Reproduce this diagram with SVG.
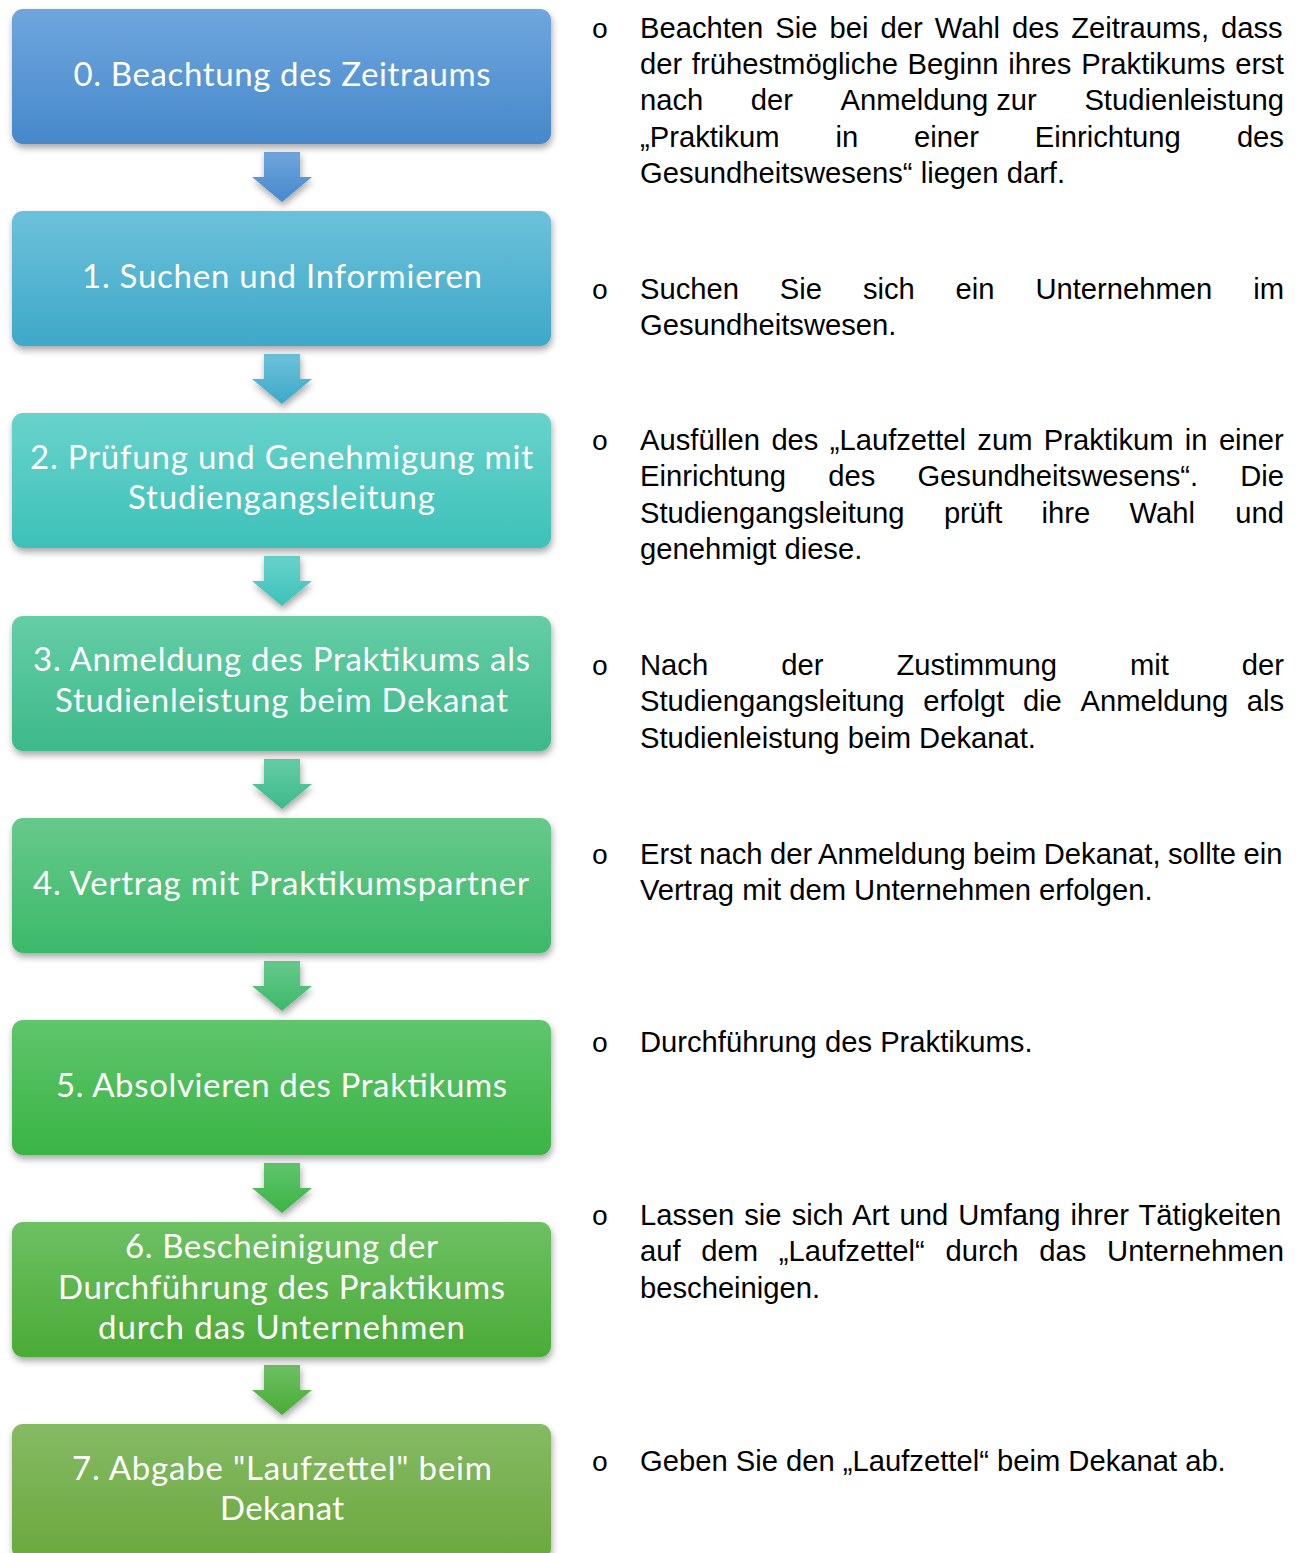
<svg xmlns="http://www.w3.org/2000/svg" width="1300" height="1553" viewBox="0 0 1300 1553">
<style>
.bt{font-family:Lato,'Open Sans',sans-serif;font-size:33px;fill:#fff;text-anchor:middle}
.rt{font-family:'Liberation Sans',Arial,sans-serif;font-size:29.2px;fill:#000}
.bu{font-family:'Liberation Mono','Courier New',monospace;font-size:28px;fill:#000;text-anchor:middle}
</style>
<defs>
<filter id="sh" x="-10%" y="-20%" width="120%" height="150%">
<feDropShadow dx="1" dy="4" stdDeviation="3.5" flood-color="#000" flood-opacity="0.35"/>
</filter>
<linearGradient id="g0" x1="0" y1="0" x2="0" y2="1"><stop offset="0" stop-color="#6fa6dd"/><stop offset="1" stop-color="#4688cb"/></linearGradient>
<linearGradient id="g1" x1="0" y1="0" x2="0" y2="1"><stop offset="0" stop-color="#6cc1da"/><stop offset="1" stop-color="#3ea8c8"/></linearGradient>
<linearGradient id="g2" x1="0" y1="0" x2="0" y2="1"><stop offset="0" stop-color="#68d3cb"/><stop offset="1" stop-color="#3dc1b9"/></linearGradient>
<linearGradient id="g3" x1="0" y1="0" x2="0" y2="1"><stop offset="0" stop-color="#65cda6"/><stop offset="1" stop-color="#3db98a"/></linearGradient>
<linearGradient id="g4" x1="0" y1="0" x2="0" y2="1"><stop offset="0" stop-color="#66c98b"/><stop offset="1" stop-color="#3cb96a"/></linearGradient>
<linearGradient id="g5" x1="0" y1="0" x2="0" y2="1"><stop offset="0" stop-color="#5fc56d"/><stop offset="1" stop-color="#3ab444"/></linearGradient>
<linearGradient id="g6" x1="0" y1="0" x2="0" y2="1"><stop offset="0" stop-color="#6dc063"/><stop offset="1" stop-color="#4aab36"/></linearGradient>
<linearGradient id="g7" x1="0" y1="0" x2="0" y2="1"><stop offset="0" stop-color="#86ba64"/><stop offset="1" stop-color="#6aa83e"/></linearGradient>
</defs>
<rect width="1300" height="1553" fill="#fff"/>

<g id="connectors" filter="url(#sh)">
<path fill="url(#g0)" d="M264,152 L300,152 L300,177 L312,177 L282,202 L252,177 L264,177 Z"/>
<path fill="url(#g1)" d="M264,354 L300,354 L300,379 L312,379 L282,404 L252,379 L264,379 Z"/>
<path fill="url(#g2)" d="M264,556 L300,556 L300,581 L312,581 L282,606 L252,581 L264,581 Z"/>
<path fill="url(#g3)" d="M264,759 L300,759 L300,784 L312,784 L282,809 L252,784 L264,784 Z"/>
<path fill="url(#g4)" d="M264,961 L300,961 L300,986 L312,986 L282,1011 L252,986 L264,986 Z"/>
<path fill="url(#g5)" d="M264,1163 L300,1163 L300,1188 L312,1188 L282,1213 L252,1188 L264,1188 Z"/>
<path fill="url(#g6)" d="M264,1365 L300,1365 L300,1390 L312,1390 L282,1415 L252,1390 L264,1390 Z"/>
</g>

<g id="step0">
<rect x="12" y="9" width="539" height="135" rx="11" fill="url(#g0)" filter="url(#sh)"/>
<text class="bt" x="282" y="86" textLength="417" lengthAdjust="spacing">0. Beachtung des Zeitraums</text>
</g>
<g id="step1">
<rect x="12" y="211" width="539" height="135" rx="11" fill="url(#g1)" filter="url(#sh)"/>
<text class="bt" x="282" y="288" textLength="400" lengthAdjust="spacing">1. Suchen und Informieren</text>
</g>
<g id="step2">
<rect x="12" y="413" width="539" height="135" rx="11" fill="url(#g2)" filter="url(#sh)"/>
<text class="bt" x="281.5" y="469" textLength="503" lengthAdjust="spacing">2. Prüfung und Genehmigung mit</text>
<text class="bt" x="281.5" y="509" textLength="307" lengthAdjust="spacing">Studiengangsleitung</text>
</g>
<g id="step3">
<rect x="12" y="616" width="539" height="135" rx="11" fill="url(#g3)" filter="url(#sh)"/>
<text class="bt" x="281.5" y="671" textLength="497" lengthAdjust="spacing">3. Anmeldung des Praktikums als</text>
<text class="bt" x="281.5" y="712" textLength="453" lengthAdjust="spacing">Studienleistung beim Dekanat</text>
</g>
<g id="step4">
<rect x="12" y="818" width="539" height="135" rx="11" fill="url(#g4)" filter="url(#sh)"/>
<text class="bt" x="281" y="895" textLength="496" lengthAdjust="spacing">4. Vertrag mit Praktikumspartner</text>
</g>
<g id="step5">
<rect x="12" y="1020" width="539" height="135" rx="11" fill="url(#g5)" filter="url(#sh)"/>
<text class="bt" x="281.5" y="1097" textLength="451" lengthAdjust="spacing">5. Absolvieren des Praktikums</text>
</g>
<g id="step6">
<rect x="12" y="1222" width="539" height="135" rx="11" fill="url(#g6)" filter="url(#sh)"/>
<text class="bt" x="281.5" y="1258" textLength="313" lengthAdjust="spacing">6. Bescheinigung der</text>
<text class="bt" x="281.5" y="1299" textLength="447" lengthAdjust="spacing">Durchführung des Praktikums</text>
<text class="bt" x="281.5" y="1339" textLength="367" lengthAdjust="spacing">durch das Unternehmen</text>
</g>
<g id="step7">
<rect x="12" y="1424" width="539" height="135" rx="11" fill="url(#g7)" filter="url(#sh)"/>
<text class="bt" x="282" y="1480" textLength="420" lengthAdjust="spacing">7. Abgabe "Laufzettel" beim</text>
<text class="bt" x="282" y="1520" textLength="124" lengthAdjust="spacing">Dekanat</text>
</g>

<g id="notes">
<g id="note0">
<text class="bu" x="600" y="38">o</text>
<text class="rt" x="640" y="38" word-spacing="3.9">Beachten Sie bei der Wahl des Zeitraums, dass</text>
<text class="rt" x="640" y="74" word-spacing="1.58">der frühestmögliche Beginn ihres Praktikums erst</text>
<text class="rt" y="110"><tspan x="640">nach</tspan><tspan x="750.8">der</tspan><tspan x="840.5">Anmeldung zur</tspan><tspan x="1084.4">Studienleistung</tspan></text>
<text class="rt" y="147"><tspan x="640">„Praktikum</tspan><tspan x="835.4">in</tspan><tspan x="914">einer</tspan><tspan x="1034.8">Einrichtung</tspan><tspan x="1236.9">des</tspan></text>
<text class="rt" x="640" y="183">Gesundheitswesens“ liegen darf.</text>
</g>
<g id="note1">
<text class="bu" x="600" y="299">o</text>
<text class="rt" y="299"><tspan x="640">Suchen</tspan><tspan x="779.8">Sie</tspan><tspan x="862.9">sich</tspan><tspan x="955.6">ein</tspan><tspan x="1035.4">Unternehmen</tspan><tspan x="1253.2">im</tspan></text>
<text class="rt" x="640" y="335">Gesundheitswesen.</text>
</g>
<g id="note2">
<text class="bu" x="600" y="450">o</text>
<text class="rt" x="640" y="450" word-spacing="3.2">Ausfüllen des „Laufzettel zum Praktikum in einer</text>
<text class="rt" y="486"><tspan x="640">Einrichtung</tspan><tspan x="828.2">des</tspan><tspan x="917.4">Gesundheitswesens“.</tspan><tspan x="1240.2">Die</tspan></text>
<text class="rt" y="523"><tspan x="640">Studiengangsleitung</tspan><tspan x="943.9">prüft</tspan><tspan x="1041.6">ihre</tspan><tspan x="1129.6">Wahl</tspan><tspan x="1235.3">und</tspan></text>
<text class="rt" x="640" y="559">genehmigt diese.</text>
</g>
<g id="note3">
<text class="bu" x="600" y="675">o</text>
<text class="rt" y="675"><tspan x="640">Nach</tspan><tspan x="781.2">der</tspan><tspan x="896.4">Zustimmung</tspan><tspan x="1130">mit</tspan><tspan x="1241.8">der</tspan></text>
<text class="rt" y="711"><tspan x="640">Studiengangsleitung</tspan><tspan x="923.2">erfolgt</tspan><tspan x="1022.9">die</tspan><tspan x="1080.5">Anmeldung</tspan><tspan x="1246.7">als</tspan></text>
<text class="rt" x="640" y="748">Studienleistung beim Dekanat.</text>
</g>
<g id="note4">
<text class="bu" x="600" y="864">o</text>
<text class="rt" x="640" y="864" word-spacing="-0.7">Erst nach der Anmeldung beim Dekanat, sollte ein</text>
<text class="rt" x="640" y="900">Vertrag mit dem Unternehmen erfolgen.</text>
</g>
<g id="note5">
<text class="bu" x="600" y="1052">o</text>
<text class="rt" x="640" y="1052">Durchführung des Praktikums.</text>
</g>
<g id="note6">
<text class="bu" x="600" y="1225">o</text>
<text class="rt" x="640" y="1225" word-spacing="2">Lassen sie sich Art und Umfang ihrer Tätigkeiten</text>
<text class="rt" y="1261"><tspan x="640">auf</tspan><tspan x="701.3">dem</tspan><tspan x="778.8">„Laufzettel“</tspan><tspan x="945.6">durch</tspan><tspan x="1039.3">das</tspan><tspan x="1107.1">Unternehmen</tspan></text>
<text class="rt" x="640" y="1298">bescheinigen.</text>
</g>
<g id="note7">
<text class="bu" x="600" y="1471">o</text>
<text class="rt" x="640" y="1471">Geben Sie den „Laufzettel“ beim Dekanat ab.</text>
</g>
</g>
</svg>
